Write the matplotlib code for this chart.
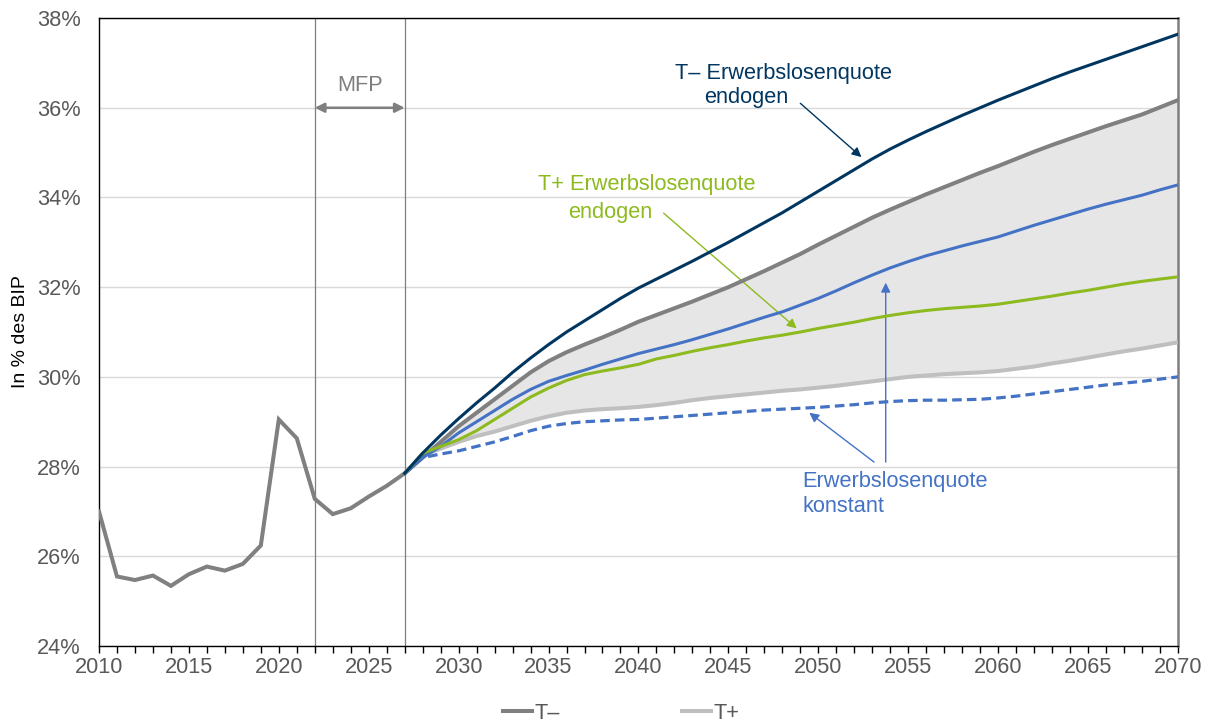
import matplotlib
matplotlib.use("Agg")
import matplotlib.pyplot as plt
from matplotlib.ticker import MultipleLocator, FuncFormatter

plt.rcParams["font.family"] = ["Liberation Sans", "DejaVu Sans"]

# --- data -------------------------------------------------------------
hist_years = list(range(2010, 2028))
hist_vals = [27.0, 25.55, 25.47, 25.57, 25.34, 25.6, 25.77, 25.68, 25.83, 26.24,
             29.05, 28.63, 27.28, 26.94, 27.07, 27.33, 27.57, 27.85]

proj_years = list(range(2027, 2071))

t_minus = [27.85, 28.2, 28.55, 28.9, 29.2, 29.5, 29.8, 30.1, 30.35, 30.55, 30.72,
           30.88, 31.05, 31.23, 31.38, 31.53, 31.68, 31.84, 32.0, 32.18, 32.36,
           32.55, 32.74, 32.95, 33.15, 33.35, 33.55, 33.73, 33.9, 34.07, 34.23,
           34.39, 34.55, 34.7, 34.86, 35.02, 35.17, 35.31, 35.45, 35.59, 35.72,
           35.85, 36.01, 36.17]

t_plus = [27.85, 28.25, 28.4, 28.55, 28.68, 28.78, 28.9, 29.02, 29.12, 29.2, 29.25,
          29.28, 29.3, 29.33, 29.37, 29.42, 29.48, 29.53, 29.57, 29.61, 29.65,
          29.69, 29.72, 29.76, 29.8, 29.85, 29.9, 29.95, 30.0, 30.03, 30.06,
          30.08, 30.1, 30.13, 30.18, 30.23, 30.3, 30.36, 30.43, 30.5, 30.57,
          30.63, 30.7, 30.77]

t_minus_endo = [27.85, 28.3, 28.7, 29.07, 29.42, 29.75, 30.1, 30.42, 30.72, 31.0,
                31.25, 31.5, 31.75, 31.98, 32.18, 32.38, 32.58, 32.79, 33.0, 33.22,
                33.44, 33.66, 33.9, 34.14, 34.38, 34.62, 34.86, 35.08, 35.28, 35.47,
                35.65, 35.83, 36.0, 36.17, 36.33, 36.49, 36.65, 36.8, 36.94, 37.08,
                37.22, 37.36, 37.5, 37.64]

t_plus_endo = [27.85, 28.3, 28.45, 28.6, 28.8, 29.05, 29.3, 29.55, 29.75, 29.92,
               30.05, 30.13, 30.2, 30.28, 30.4, 30.48, 30.57, 30.65, 30.72, 30.8,
               30.87, 30.93, 31.0, 31.08, 31.15, 31.22, 31.3, 31.37, 31.43, 31.48,
               31.52, 31.55, 31.58, 31.62, 31.68, 31.74, 31.8, 31.87, 31.93, 32.0,
               32.07, 32.13, 32.18, 32.23]

basis = [27.85, 28.2, 28.45, 28.75, 29.0, 29.25, 29.5, 29.72, 29.9, 30.03, 30.15,
         30.28, 30.4, 30.52, 30.62, 30.72, 30.83, 30.95, 31.07, 31.2, 31.33,
         31.45, 31.6, 31.75, 31.92, 32.1, 32.27, 32.43, 32.57, 32.7, 32.81,
         32.92, 33.02, 33.12, 33.25, 33.38, 33.5, 33.62, 33.74, 33.85, 33.95,
         34.05, 34.17, 34.28]

konstant = [27.85, 28.2, 28.28, 28.35, 28.45, 28.55, 28.67, 28.8, 28.9, 28.96, 29.0,
            29.02, 29.04, 29.05, 29.08, 29.11, 29.14, 29.17, 29.2, 29.23, 29.26,
            29.28, 29.3, 29.32, 29.35, 29.38, 29.42, 29.45, 29.47, 29.48, 29.48,
            29.49, 29.5, 29.53, 29.57, 29.62, 29.67, 29.72, 29.77, 29.82, 29.86,
            29.9, 29.95, 30.0]

mfp_start, mfp_end = 2022, 2027

# --- colours ----------------------------------------------------------
C_GRAY = "#808080"
C_LGRAY = "#BFBFBF"
C_FILL = "#E7E6E7"
C_NAVY = "#003660"
C_BLUE = "#4472C4"
C_GREEN = "#8DBA1E"
C_TEXT = "#595959"
FS = 15.7

fig = plt.figure(figsize=(12.13, 7.22), dpi=100)
ax = fig.add_axes([0.0816, 0.1053, 0.8895, 0.8697])

ax.fill_between(proj_years, t_plus, t_minus, color=C_FILL, lw=0, zorder=1)

ax.plot(proj_years, t_plus, color=C_LGRAY, lw=2.9, zorder=3, solid_capstyle="butt")
ax.plot(hist_years + proj_years[1:], hist_vals + t_minus[1:], color=C_GRAY, lw=2.9,
        zorder=4, solid_joinstyle="miter")
ax.plot(proj_years, konstant, color=C_BLUE, lw=2.3, ls=(0, (3, 1.6)), zorder=5)
ax.plot(proj_years, basis, color=C_BLUE, lw=2.2, zorder=6)
ax.plot(proj_years, t_plus_endo, color=C_GREEN, lw=2.2, zorder=7)
ax.plot(proj_years, t_minus_endo, color=C_NAVY, lw=2.2, zorder=8)

# medium-term planning period
for yr in (mfp_start, mfp_end):
    ax.axvline(yr, color="#7F7F7F", lw=0.9, zorder=2)
ax.annotate("", xy=(mfp_start, 36.0), xytext=(mfp_end, 36.0),
            arrowprops=dict(arrowstyle="<|-|>", color="#7F7F7F", lw=1.8,
                            mutation_scale=14, shrinkA=0, shrinkB=0), zorder=9)
ax.text((mfp_start + mfp_end) / 2, 36.5, "MFP", color="#7F7F7F", fontsize=FS,
        ha="center", va="center")

# axes styling
ax.set_xlim(2010, 2070)
ax.set_ylim(24, 38)
ax.yaxis.set_major_locator(MultipleLocator(2))
ax.yaxis.set_major_formatter(FuncFormatter(lambda v, p: f"{v:.0f}%"))
ax.xaxis.set_major_locator(MultipleLocator(5))
ax.xaxis.set_minor_locator(MultipleLocator(1))
ax.grid(axis="y", color="#D9D9D9", lw=1.0, zorder=0)
ax.set_axisbelow(True)
ax.tick_params(axis="y", length=0, labelsize=FS, labelcolor=C_TEXT, pad=13)
ax.tick_params(axis="x", which="both", direction="out", length=5, width=1,
               color="black", labelsize=FS, labelcolor=C_TEXT, pad=3)
for side in ("left", "bottom", "top"):
    ax.spines[side].set_color("black")
    ax.spines[side].set_linewidth(1.0)
ax.spines["right"].set_color("#7F7F7F")
ax.spines["right"].set_linewidth(1.8)
ax.set_ylabel("In % des BIP", fontsize=14, color="black", labelpad=6)

# labels for the scenario curves
ax.text(2048.04, 36.77, "T\u2013 Erwerbslosenquote", color=C_NAVY, fontsize=FS,
        ha="center", va="center")
ax.text(2046.0, 36.22, "endogen", color=C_NAVY, fontsize=FS, ha="center", va="center")
ax.annotate("", xy=(2052.4, 34.9), xytext=(2049.0, 36.1),
            arrowprops=dict(arrowstyle="-|>", color=C_NAVY, lw=1.0, mutation_scale=14,
                            shrinkA=0, shrinkB=0))

ax.text(2040.44, 34.28, "T+ Erwerbslosenquote", color=C_GREEN, fontsize=FS,
        ha="center", va="center")
ax.text(2038.41, 33.66, "endogen", color=C_GREEN, fontsize=FS, ha="center", va="center")
ax.annotate("", xy=(2048.8, 31.08), xytext=(2041.4, 33.65),
            arrowprops=dict(arrowstyle="-|>", color=C_GREEN, lw=1.0, mutation_scale=14,
                            shrinkA=0, shrinkB=0))

ax.text(2049.13, 27.66, "Erwerbslosenquote", color=C_BLUE, fontsize=FS,
        ha="left", va="center")
ax.text(2049.13, 27.10, "konstant", color=C_BLUE, fontsize=FS, ha="left", va="center")
ax.annotate("", xy=(2049.5, 29.2), xytext=(2053.1, 28.1),
            arrowprops=dict(arrowstyle="-|>", color=C_BLUE, lw=1.0, mutation_scale=14,
                            shrinkA=0, shrinkB=0))
ax.annotate("", xy=(2053.75, 32.1), xytext=(2053.75, 28.1),
            arrowprops=dict(arrowstyle="-|>", color=C_BLUE, lw=1.0, mutation_scale=14,
                            shrinkA=0, shrinkB=0))

# legend
h1, = ax.plot([], [], color=C_GRAY, lw=2.9, label="T\u2013")
h2, = ax.plot([], [], color=C_LGRAY, lw=2.9, label="T+")
fig.legend(handles=[h1, h2], loc="center", bbox_to_anchor=(0.512, 0.012), ncol=2,
           frameon=False, fontsize=FS, handlelength=1.35, handletextpad=0.1,
           columnspacing=5.6, labelcolor=C_TEXT)

fig.savefig("out.png", dpi=100)
